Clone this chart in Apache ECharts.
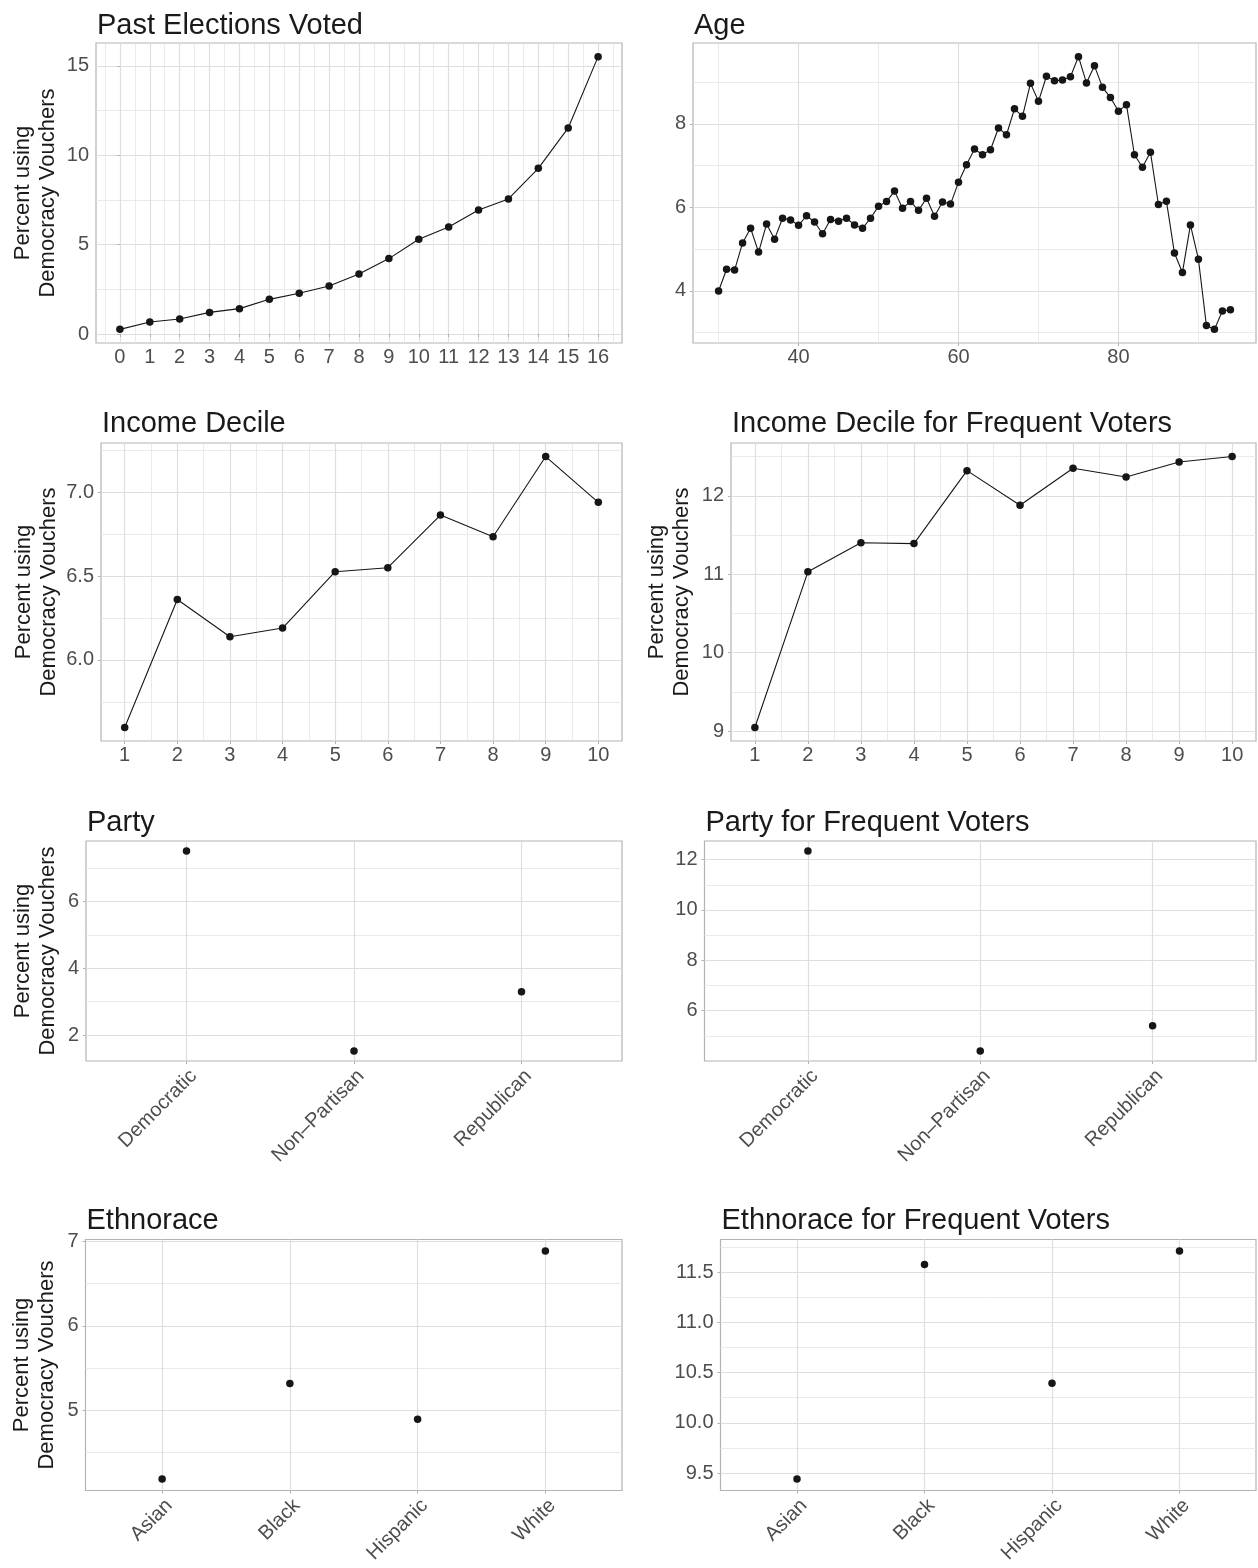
<!DOCTYPE html>
<html>
<head>
<meta charset="utf-8">
<script src="https://cdn.jsdelivr.net/npm/echarts@6/dist/echarts.min.js"></script>
<style>
html,body{margin:0;padding:0;background:#fff;}
#chart{width:1258px;height:1568px;}
</style>
</head>
<body>
<div id="chart"></div>
<script>
// ---------- DATA ----------
const pastElectionsX = [0,1,2,3,4,5,6,7,8,9,10,11,12,13,14,15,16];
const pastElectionsY = [0.26,0.67,0.84,1.21,1.42,1.94,2.28,2.69,3.36,4.22,5.30,5.99,6.94,7.56,9.27,11.53,15.52];

const ageX = [30,31,32,33,34,35,36,37,38,39,40,41,42,43,44,45,46,47,48,49,50,51,52,53,54,55,56,57,58,59,60,61,62,63,64,65,66,67,68,69,70,71,72,73,74,75,76,77,78,79,80,81,82,83,84,85,86,87,88,89,90,91,92,93,94];
const ageY = [4.00,4.52,4.50,5.15,5.50,4.93,5.60,5.24,5.74,5.70,5.57,5.80,5.65,5.37,5.71,5.67,5.74,5.58,5.50,5.74,6.03,6.14,6.39,5.98,6.14,5.93,6.22,5.79,6.13,6.08,6.60,7.02,7.40,7.26,7.38,7.90,7.74,8.36,8.18,8.97,8.54,9.14,9.03,9.05,9.13,9.61,8.98,9.39,8.88,8.63,8.30,8.46,7.26,6.96,7.32,6.07,6.15,4.91,4.44,5.58,4.76,3.17,3.08,3.52,3.55];

const incomeDecileX = [1,2,3,4,5,6,7,8,9,10];
const incomeDecileY = [5.597,6.360,6.138,6.190,6.526,6.550,6.864,6.735,7.213,6.940];
const incomeDecileFreqY = [9.046,11.03,11.40,11.39,12.32,11.88,12.35,12.24,12.43,12.50];

const partyCats = ['Democratic','Non\u2013Partisan','Republican'];
const partyY = [7.52,1.52,3.30];
const partyFreqY = [12.34,4.40,5.405];

const ethnoraceCats = ['Asian','Black','Hispanic','White'];
const ethnoraceY = [4.183,5.316,4.893,6.889];
const ethnoraceFreqY = [9.44,11.576,10.394,11.712];

// tick labels / grid breaks
const pastXTicks = [0,1,2,3,4,5,6,7,8,9,10,11,12,13,14,15,16];
const pastXMinor = [-0.5,0.5,1.5,2.5,3.5,4.5,5.5,6.5,7.5,8.5,9.5,10.5,11.5,12.5,13.5,14.5,15.5,16.5];
const pastYTicks = [0,5,10,15];
const pastYMinor = [2.5,7.5,12.5];
const ageXTicks = [40,60,80];
const ageXMinor = [30,50,70,90];
const ageYTicks = [4,6,8];
const ageYMinor = [3,5,7,9];
const incXTicks = [1,2,3,4,5,6,7,8,9,10];
const incXMinor = [1.5,2.5,3.5,4.5,5.5,6.5,7.5,8.5,9.5];
const incYTicks = [6.0,6.5,7.0];
const incYMinor = [5.75,6.25,6.75,7.25];
const incFreqYTicks = [9,10,11,12];
const incFreqYMinor = [9.5,10.5,11.5,12.5];
const partyYTicks = [2,4,6];
const partyYMinor = [3,5,7];
const partyFreqYTicks = [6,8,10,12];
const partyFreqYMinor = [5,7,9,11];
const ethYTicks = [5,6,7];
const ethYMinor = [4.5,5.5,6.5];
const ethFreqYTicks = [9.5,10.0,10.5,11.0,11.5];
const ethFreqYMinor = [9.75,10.25,10.75,11.25,11.75];

const yTitle = 'Percent using\nDemocracy Vouchers';

// ---------- LAYOUT ----------
const FONT = '"Liberation Sans", Arial, Helvetica, sans-serif';
const TICK_COLOR = '#4D4D4D';
const INK = '#1A1A1A';

function expand(vals) {
  const lo = Math.min(...vals), hi = Math.max(...vals);
  const d = (hi - lo) * 0.05;
  return [lo - d, hi + d];
}

const panels = [
  {title:'Past Elections Voted', left:96, right:622, top:43, bottom:343, titleTop:6,
   xs:pastElectionsX, ys:pastElectionsY, xt:pastXTicks, xm:pastXMinor, yt:pastYTicks, ym:pastYMinor,
   yName:true, nameGap:36, yfmt:v=>String(v), kind:'line'},
  {title:'Age', left:693, right:1256, top:43, bottom:343, titleTop:6,
   xs:ageX, ys:ageY, xt:ageXTicks, xm:ageXMinor, yt:ageYTicks, ym:ageYMinor,
   yName:false, yfmt:v=>String(v), kind:'line'},
  {title:'Income Decile', left:101, right:622, top:443, bottom:741, titleTop:404,
   xs:incomeDecileX, ys:incomeDecileY, xt:incXTicks, xm:incXMinor, yt:incYTicks, ym:incYMinor,
   yName:true, nameGap:40, yfmt:v=>v.toFixed(1), kind:'line'},
  {title:'Income Decile for Frequent Voters', left:731, right:1256, top:443, bottom:741, titleTop:404,
   xs:incomeDecileX, ys:incomeDecileFreqY, xt:incXTicks, xm:incXMinor, yt:incFreqYTicks, ym:incFreqYMinor,
   yName:true, nameGap:37, yfmt:v=>String(v), kind:'line'},
  {title:'Party', left:86, right:622, top:841, bottom:1061, titleTop:803,
   cats:partyCats, ys:partyY, yt:partyYTicks, ym:partyYMinor,
   yName:true, nameGap:26, yfmt:v=>String(v), kind:'cat'},
  {title:'Party for Frequent Voters', left:704.5, right:1256, top:841, bottom:1061, titleTop:803,
   cats:partyCats, ys:partyFreqY, yt:partyFreqYTicks, ym:partyFreqYMinor,
   yName:false, yfmt:v=>String(v), kind:'cat'},
  {title:'Ethnorace', left:85.5, right:622, top:1239.5, bottom:1490.5, titleTop:1201,
   cats:ethnoraceCats, ys:ethnoraceY, yt:ethYTicks, ym:ethYMinor,
   yName:true, nameGap:26, yfmt:v=>String(v), kind:'cat'},
  {title:'Ethnorace for Frequent Voters', left:720.5, right:1256, top:1239.5, bottom:1490.5, titleTop:1201,
   cats:ethnoraceCats, ys:ethnoraceFreqY, yt:ethFreqYTicks, ym:ethFreqYMinor,
   yName:false, yfmt:v=>v.toFixed(1), kind:'cat'}
];

const option = {
  animation:false,
  backgroundColor:'#ffffff',
  textStyle:{fontFamily:FONT},
  title:[], grid:[], xAxis:[], yAxis:[], series:[]
};

panels.forEach((p, i) => {
  option.title.push({
    text:p.title, left:p.left - 4, top:p.titleTop,
    textStyle:{fontFamily:FONT, fontSize:29, fontWeight:'normal', color:INK}
  });
  option.grid.push({
    left:p.left, top:p.top, width:p.right - p.left, height:p.bottom - p.top,
    show:true, borderColor:'#B3B3B3', borderWidth:1.2, backgroundColor:'#ffffff', containLabel:false
  });

  let xMin, xMax, xTicks, xMinor, xFmt, data;
  if (p.kind === 'cat') {
    xMin = 0.4; xMax = p.cats.length + 0.6;
    xTicks = p.cats.map((c, k) => k + 1);
    xMinor = [];
    xFmt = v => p.cats[Math.round(v) - 1] || '';
    data = p.ys.map((v, k) => [k + 1, v]);
  } else {
    const ex = expand(p.xs);
    xMin = ex[0]; xMax = ex[1];
    xTicks = p.xt; xMinor = p.xm;
    xFmt = v => String(v);
    data = p.xs.map((x, k) => [x, p.ys[k]]);
  }
  const ey = expand(p.ys);

  const rotated = p.kind === 'cat';
  option.xAxis.push({
    type:'value', gridIndex:i, min:xMin, max:xMax, position:'bottom',
    axisLine:{show:false},
    axisTick:{show:true, length:3, customValues:xTicks, lineStyle:{color:'#B3B3B3', width:1}},
    axisLabel:Object.assign({
      customValues:xTicks, formatter:xFmt, color:TICK_COLOR, fontSize:20, fontFamily:FONT, margin:rotated ? 5 : 4
    }, rotated ? {rotate:45, align:'right', verticalAlign:'top'} : {}),
    splitLine:{show:true, lineStyle:{color:'#DEDEDE', width:1.2}}
  });
  option.xAxis.push({
    type:'value', gridIndex:i, min:xMin, max:xMax, position:'top',
    axisLine:{show:false},
    axisTick:{show:false, customValues:xMinor.length ? xMinor : [xMin]},
    axisLabel:{show:false},
    splitLine:{show:xMinor.length > 0, lineStyle:{color:'#E4E4E4', width:0.8}}
  });
  option.yAxis.push({
    type:'value', gridIndex:i, min:ey[0], max:ey[1], position:'left',
    axisLine:{show:false},
    axisTick:{show:true, length:3, customValues:p.yt, lineStyle:{color:'#B3B3B3', width:1}},
    axisLabel:{customValues:p.yt, formatter:p.yfmt, color:TICK_COLOR, fontSize:20, fontFamily:FONT, margin:7},
    splitLine:{show:true, lineStyle:{color:'#DEDEDE', width:1.2}},
    name:p.yName ? yTitle : '',
    nameLocation:'middle', nameRotate:90, nameGap:p.nameGap || 30,
    nameTextStyle:{fontSize:22, color:INK, fontFamily:FONT, lineHeight:25}
  });
  option.yAxis.push({
    type:'value', gridIndex:i, min:ey[0], max:ey[1], position:'right',
    axisLine:{show:false},
    axisTick:{show:false, customValues:p.ym},
    axisLabel:{show:false},
    splitLine:{show:true, lineStyle:{color:'#E4E4E4', width:0.8}}
  });

  option.series.push({
    type:p.kind === 'cat' ? 'scatter' : 'line',
    xAxisIndex:2 * i, yAxisIndex:2 * i,
    data:data,
    symbol:'circle', symbolSize:7.5,
    itemStyle:{color:'#161616', opacity:1},
    lineStyle:{color:'#161616', width:1.1},
    showSymbol:true, silent:true, z:5
  });
});

const chart = echarts.init(document.getElementById('chart'), null, {renderer:'canvas'});
chart.setOption(option);
</script>
</body>
</html>
